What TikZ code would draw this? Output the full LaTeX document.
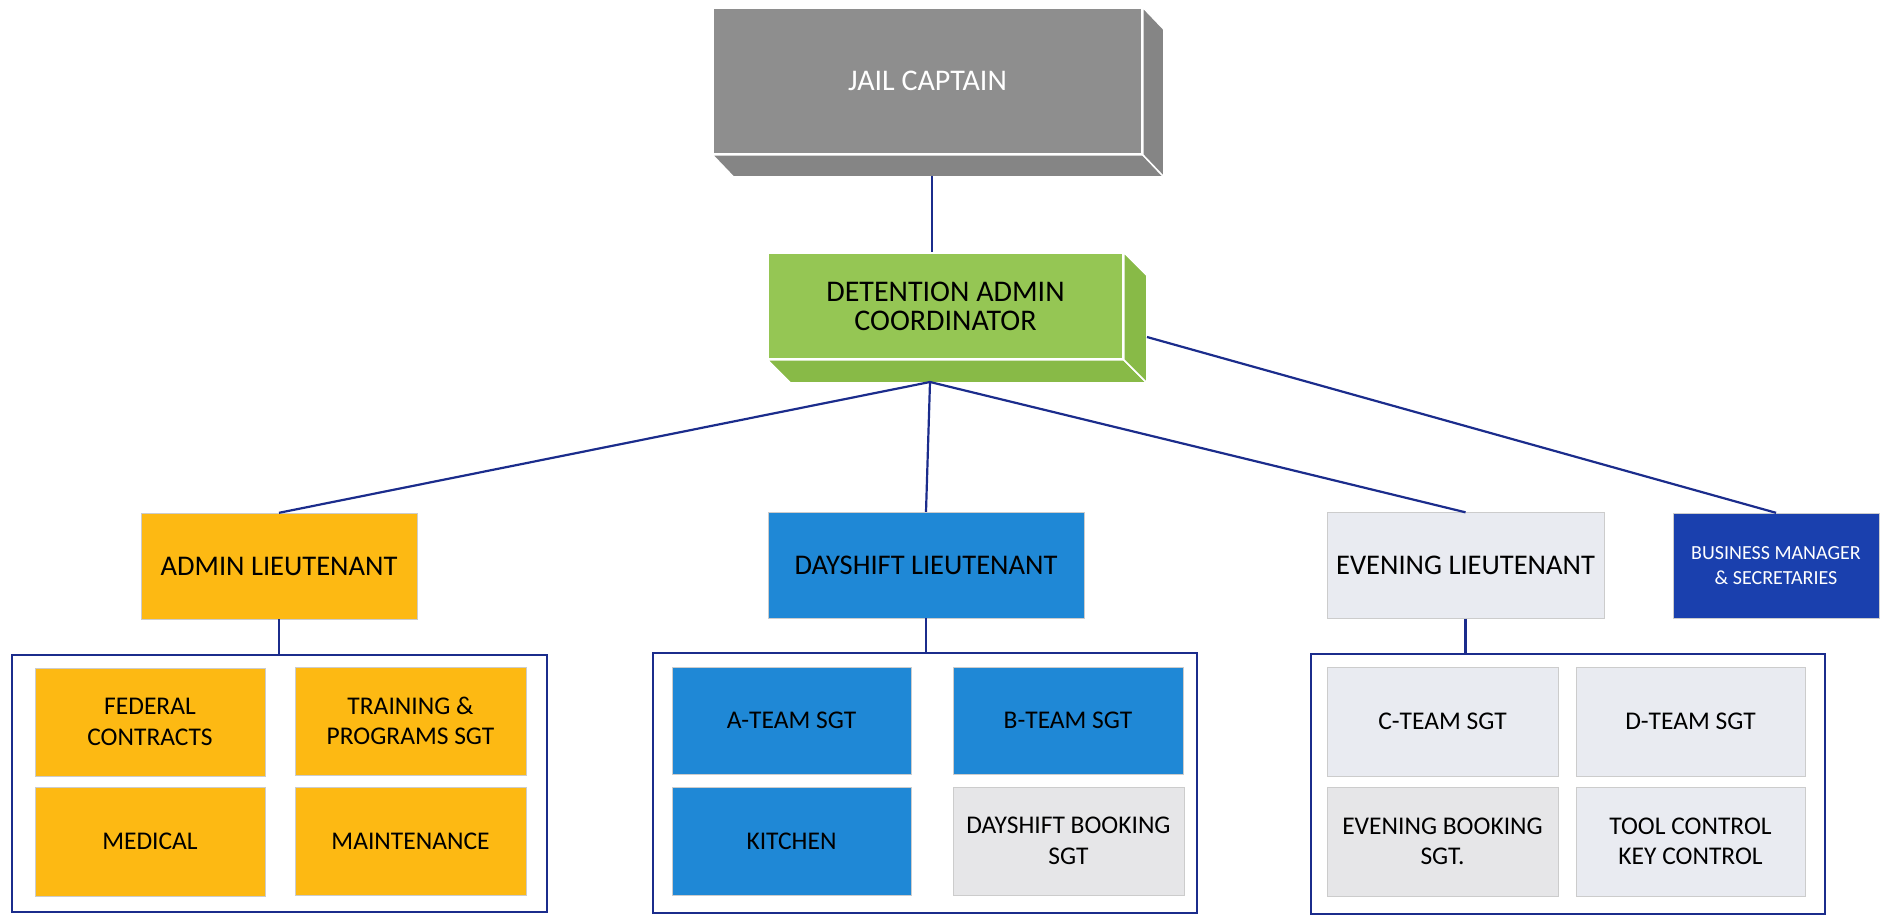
\documentclass[tikz,border=0pt]{standalone}
\usepackage{fontspec}
\setmainfont{Carlito}
\definecolor{linkblue}{HTML}{1B2C8C}
\definecolor{capgray}{HTML}{8E8E8E}
\definecolor{capside}{HTML}{858585}
\definecolor{detgreen}{HTML}{95C654}
\definecolor{detside}{HTML}{88BA47}
\definecolor{admgold}{HTML}{FDB913}
\definecolor{dayblue}{HTML}{1F88D6}
\definecolor{evepale}{HTML}{E9EBF1}
\definecolor{bookgray}{HTML}{E6E6E8}
\definecolor{busblue}{HTML}{1A40AE}

\begin{document}
\begin{tikzpicture}[x=1pt,y=-1pt,
  unit/.style={minimum width=230pt,minimum height=108pt,inner sep=0pt,align=center,draw=black!20,font=\fontsize{25.5}{30.5}\selectfont},
  lt/.style={minimum height=106pt,inner sep=0pt,align=center,draw=black!20,font=\fontsize{28.5}{30}\selectfont},
  grp/.style={draw=linkblue,line width=1.8pt,inner sep=0pt},
  link/.style={linkblue,line width=2.2pt}]
  \useasboundingbox (0,0) rectangle (1889,916);

  % top of the chart
  \node[fill=capgray,draw=white,line width=1.5pt,text=white,minimum width=429pt,minimum height=146pt,font=\fontsize{30}{30}\selectfont] (captain) at (927.5,81) {JAIL CAPTAIN};
  \filldraw[fill=capside,draw=white,line width=1.5pt] (captain.south west) -- (captain.south east) -- ++(21,22) -- ([shift={(21,22)}]captain.south west) -- cycle;
  \filldraw[fill=capside,draw=white,line width=1.5pt] (captain.north east) -- ++(21,22) -- ([shift={(21,22)}]captain.south east) -- (captain.south east) -- cycle;

  \node[fill=detgreen,draw=white,line width=1.5pt,align=center,minimum width=355pt,minimum height=106pt,font=\fontsize{30}{29}\selectfont] (detention) at (945.5,306) {DETENTION ADMIN\\COORDINATOR};
  \filldraw[fill=detside,draw=white,line width=1.5pt] (detention.south west) -- (detention.south east) -- ++(23,23) -- ([shift={(23,23)}]detention.south west) -- cycle;
  \filldraw[fill=detside,draw=white,line width=1.5pt] (detention.north east) -- ++(23,23) -- ([shift={(23,23)}]detention.south east) -- (detention.south east) -- cycle;

  \coordinate (capfoot) at (932,176);
  \coordinate (dethub) at (930,382);
  \coordinate (detright) at (1147,337);

  % lieutenants
  \node[lt,fill=admgold,minimum width=276pt] (adminlt) at (279,566) {ADMIN LIEUTENANT};
  \node[lt,fill=dayblue,minimum width=316pt] (daylt) at (926,565) {DAYSHIFT LIEUTENANT};
  \node[lt,fill=evepale,minimum width=277pt] (evelt) at (1465.5,565.5) {EVENING LIEUTENANT};
  \node[lt,fill=busblue,text=white,minimum width=206pt,minimum height=105pt,font=\fontsize{20}{25}\selectfont] (busmgr) at (1776,565.5) {BUSINESS MANAGER\\\& SECRETARIES};

  % groups
  \node[grp,minimum width=535pt,minimum height=257pt] (admingrp) at (279.5,783.5) {};
  \node[grp,minimum width=544pt,minimum height=260pt] (daygrp) at (925,783) {};
  \node[grp,minimum width=514pt,minimum height=260pt] (evegrp) at (1568,784) {};

  \node[unit,fill=admgold] (federal) at (150,722) {FEDERAL\\CONTRACTS};
  \node[unit,fill=admgold,minimum width=231pt] (training) at (410.5,721) {TRAINING \&\\PROGRAMS SGT};
  \node[unit,fill=admgold,minimum height=109pt] (medical) at (150,841.5) {MEDICAL};
  \node[unit,fill=admgold,minimum width=231pt] (maint) at (410.5,841) {MAINTENANCE};

  \node[unit,fill=dayblue,minimum width=239pt,minimum height=107pt] (ateam) at (791.5,720.5) {A-TEAM SGT};
  \node[unit,fill=dayblue,minimum height=107pt] (bteam) at (1068,720.5) {B-TEAM SGT};
  \node[unit,fill=dayblue,minimum width=239pt] (kitchen) at (791.5,841) {KITCHEN};
  \node[unit,fill=bookgray,minimum width=231pt] (daybook) at (1068.5,841) {DAYSHIFT BOOKING\\SGT};

  \node[unit,fill=evepale,minimum width=231pt,minimum height=109pt] (cteam) at (1442.5,721.5) {C-TEAM SGT};
  \node[unit,fill=evepale,minimum width=229pt,minimum height=109pt] (dteam) at (1690.5,721.5) {D-TEAM SGT};
  \node[unit,fill=bookgray,minimum width=231pt,minimum height=109pt] (evebook) at (1442.5,841.5) {EVENING BOOKING\\SGT.};
  \node[unit,fill=evepale,minimum width=229pt,minimum height=109pt] (toolkey) at (1690.5,841.5) {TOOL CONTROL\\KEY CONTROL};

  % connectors
  \draw[link] (capfoot) -- (capfoot |- detention.north);
  \draw[link] (dethub) -- (adminlt.north);
  \draw[link] (dethub) -- (daylt.north);
  \draw[link] (dethub) -- (evelt.north);
  \draw[link] (detright) -- (busmgr.north);
  \draw[link] (adminlt.south) -- (adminlt.south |- admingrp.north);
  \draw[link] (daylt.south) -- (daylt.south |- daygrp.north);
  \draw[link] (evelt.south) -- (evelt.south |- evegrp.north);
\end{tikzpicture}
\end{document}
